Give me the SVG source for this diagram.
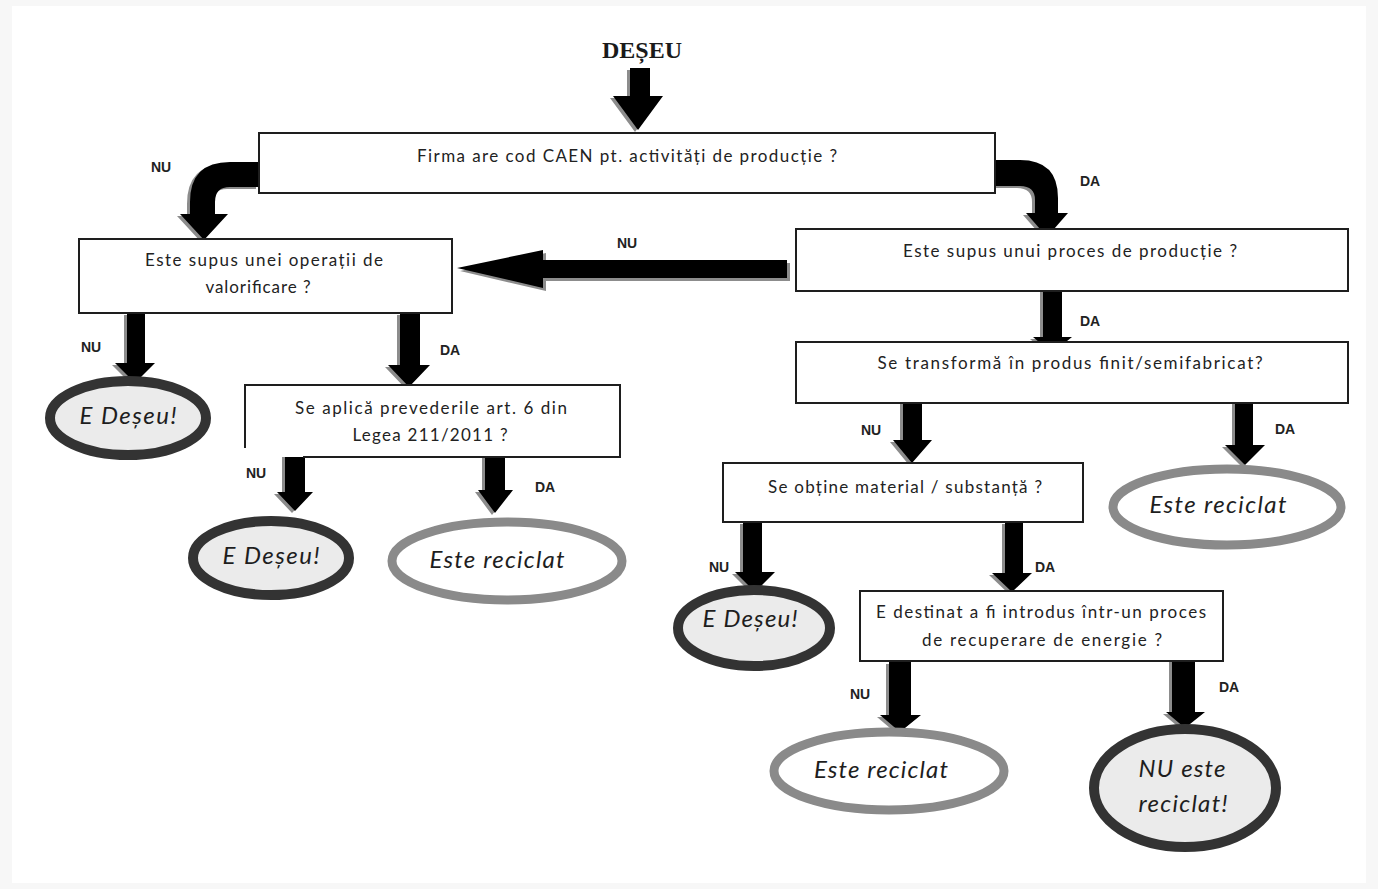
<svg xmlns="http://www.w3.org/2000/svg" width="1378" height="889" viewBox="0 0 1378 889">
<style>
.box{fill:#fff;stroke:#1e1e1e;stroke-width:2}
.t{font-family:Lato,"Liberation Sans",sans-serif;font-size:17px;fill:#222;text-anchor:middle}
.lbl{font-family:"Liberation Sans",Arial,sans-serif;font-size:14px;font-weight:bold;fill:#222;text-anchor:middle}
.et{font-family:Lato,"Liberation Sans",sans-serif;font-size:24px;font-style:italic;fill:#1e1e1e;text-anchor:middle}
.dark{fill:#ebebeb;stroke:#333;stroke-width:10}
.gray{fill:#fff;stroke:#8a8a8a;stroke-width:9}
.arr{fill:#000}
.sh{fill:#8c8c8c}
</style>
<rect x="0" y="0" width="1378" height="889" fill="#f7f7f7"/>
<rect x="12" y="6" width="1354" height="877" fill="#fff"/>
<text x="642" y="58" font-family="'Liberation Serif',serif" font-size="24" font-weight="bold" fill="#1a1a1a" text-anchor="middle">DEȘEU</text>

<g id="connectors">
  <g class="sh" transform="translate(-3,2)">
    <path d="M630,68 L650,68 L650,96 L663,96 L638,130 L613,96 L630,96 Z"/>
    <path d="M259,162 L230,162 Q190,162 190,202 L190,214 L180,214 L204,240 L228,214 L215,214 L215,202 Q215,187 230,187 L259,187 Z"/>
    <path d="M995,160 L1020,160 Q1058,160 1058,198 L1058,213 L1068,213 L1047,237 L1026,213 L1035,213 L1035,200 Q1035,186 1020,186 L995,186 Z"/>
    <path d="M127,313 L145,313 L145,363 L155,363 L135,383 L115,363 L127,363 Z"/>
    <path d="M400,313 L420,313 L420,365 L430,365 L409,387 L388,365 L400,365 Z"/>
    <path d="M285,443 L305,443 L305,492 L313,492 L295,511 L277,492 L285,492 Z"/>
    <path d="M485,443 L505,443 L505,490 L513,490 L495,513 L478,490 L485,490 Z"/>
    <path d="M1043,285 L1062,285 L1062,337 L1072,337 L1052,353 L1033,337 L1043,337 Z"/>
    <path d="M903,400 L922,400 L922,440 L932,440 L912,463 L893,440 L903,440 Z"/>
    <path d="M1235,398 L1253,398 L1253,445 L1265,445 L1245,465 L1225,445 L1235,445 Z"/>
    <path d="M743,522 L762,522 L762,572 L775,572 L755,592 L735,572 L743,572 Z"/>
    <path d="M1005,522 L1023,522 L1023,573 L1032,573 L1012,592 L992,573 L1005,573 Z"/>
    <path d="M889,662 L911,662 L911,715 L921,715 L900,732 L880,715 L889,715 Z"/>
    <path d="M1172,658 L1195,658 L1195,712 L1205,712 L1185,728 L1166,712 L1172,712 Z"/>
  </g>
  <path class="sh" transform="translate(3,3)" d="M787,260 L787,278 L543,278 L543,288 L457,268 L543,250 L543,260 Z"/>
  <g class="arr">
    <path d="M630,68 L650,68 L650,96 L663,96 L638,130 L613,96 L630,96 Z"/>
    <path d="M259,162 L230,162 Q190,162 190,202 L190,214 L180,214 L204,240 L228,214 L215,214 L215,202 Q215,187 230,187 L259,187 Z"/>
    <path d="M995,160 L1020,160 Q1058,160 1058,198 L1058,213 L1068,213 L1047,237 L1026,213 L1035,213 L1035,200 Q1035,186 1020,186 L995,186 Z"/>
    <path d="M787,260 L787,278 L543,278 L543,288 L457,268 L543,250 L543,260 Z"/>
    <path d="M127,313 L145,313 L145,363 L155,363 L135,383 L115,363 L127,363 Z"/>
    <path d="M400,313 L420,313 L420,365 L430,365 L409,387 L388,365 L400,365 Z"/>
    <path d="M285,443 L305,443 L305,492 L313,492 L295,511 L277,492 L285,492 Z"/>
    <path d="M485,443 L505,443 L505,490 L513,490 L495,513 L478,490 L485,490 Z"/>
    <path d="M1043,285 L1062,285 L1062,337 L1072,337 L1052,353 L1033,337 L1043,337 Z"/>
    <path d="M903,400 L922,400 L922,440 L932,440 L912,463 L893,440 L903,440 Z"/>
    <path d="M1235,398 L1253,398 L1253,445 L1265,445 L1245,465 L1225,445 L1235,445 Z"/>
    <path d="M743,522 L762,522 L762,572 L775,572 L755,592 L735,572 L743,572 Z"/>
    <path d="M1005,522 L1023,522 L1023,573 L1032,573 L1012,592 L992,573 L1005,573 Z"/>
    <path d="M889,662 L911,662 L911,715 L921,715 L900,732 L880,715 L889,715 Z"/>
    <path d="M1172,658 L1195,658 L1195,712 L1205,712 L1185,728 L1166,712 L1172,712 Z"/>
  </g>
  <text class="lbl" x="161" y="172">NU</text>
  <text class="lbl" x="1090" y="186">DA</text>
  <text class="lbl" x="627" y="248">NU</text>
  <text class="lbl" x="91" y="352">NU</text>
  <text class="lbl" x="450" y="355">DA</text>
  <text class="lbl" x="256" y="478">NU</text>
  <text class="lbl" x="545" y="492">DA</text>
  <text class="lbl" x="1090" y="326">DA</text>
  <text class="lbl" x="871" y="435">NU</text>
  <text class="lbl" x="1285" y="434">DA</text>
  <text class="lbl" x="719" y="572">NU</text>
  <text class="lbl" x="1045" y="572">DA</text>
  <text class="lbl" x="860" y="699">NU</text>
  <text class="lbl" x="1229" y="692">DA</text>
</g>

<g id="q1">
  <rect class="box" x="259" y="133" width="736" height="60"/>
  <text class="t" x="627" y="162" textLength="420" lengthAdjust="spacing">Firma are cod CAEN pt. activități de producție ?</text>
</g>
<g id="qA">
  <rect class="box" x="79" y="239" width="373" height="74"/>
  <text class="t" x="264" y="266" textLength="238" lengthAdjust="spacing">Este supus unei operații de</text>
  <text class="t" x="258" y="293" textLength="105" lengthAdjust="spacing">valorificare ?</text>
</g>
<g id="q2">
  <rect class="box" x="796" y="229" width="552" height="62"/>
  <text class="t" x="1070" y="257" textLength="334" lengthAdjust="spacing">Este supus unui proces de producție ?</text>
</g>
<g id="q3">
  <rect class="box" x="796" y="342" width="552" height="61"/>
  <text class="t" x="1070" y="369" textLength="385" lengthAdjust="spacing">Se transformă în produs finit/semifabricat?</text>
</g>
<g id="qB">
  <rect x="245" y="385" width="375" height="72" fill="#fff"/>
  <path d="M245,448 L245,385 L620,385 L620,457 L303,457" fill="none" stroke="#1e1e1e" stroke-width="2"/>
  <text class="t" x="431" y="414" textLength="272" lengthAdjust="spacing">Se aplică prevederile art. 6 din</text>
  <text class="t" x="430" y="441" textLength="155" lengthAdjust="spacing">Legea 211/2011 ?</text>
</g>
<g id="q4">
  <rect class="box" x="723" y="463" width="360" height="59"/>
  <text class="t" x="905" y="493" textLength="274" lengthAdjust="spacing">Se obține material / substanță ?</text>
</g>
<g id="q5">
  <rect class="box" x="860" y="591" width="363" height="70"/>
  <text class="t" x="1041" y="618" textLength="330" lengthAdjust="spacing">E destinat a fi introdus într-un proces</text>
  <text class="t" x="1042" y="646" textLength="240" lengthAdjust="spacing">de recuperare de energie ?</text>
</g>

<g id="e1">
  <ellipse class="dark" cx="128" cy="418" rx="78" ry="37"/>
  <text class="et" x="128" y="424" textLength="97" lengthAdjust="spacing">E Deșeu!</text>
</g>
<g id="e2">
  <ellipse class="dark" cx="271" cy="558" rx="78" ry="37"/>
  <text class="et" x="271" y="564" textLength="97" lengthAdjust="spacing">E Deșeu!</text>
</g>
<g id="r1">
  <ellipse class="gray" cx="507" cy="561" rx="115" ry="39"/>
  <text class="et" x="497" y="568" textLength="135" lengthAdjust="spacing">Este reciclat</text>
</g>
<g id="r2">
  <ellipse class="gray" cx="1227" cy="507" rx="114" ry="38"/>
  <text class="et" x="1218" y="513" textLength="137" lengthAdjust="spacing">Este reciclat</text>
</g>
<g id="e3">
  <ellipse class="dark" cx="754" cy="628" rx="76" ry="38"/>
  <text class="et" x="750" y="627" textLength="95" lengthAdjust="spacing">E Deșeu!</text>
</g>
<g id="r3">
  <ellipse class="gray" cx="889" cy="771" rx="115" ry="39"/>
  <text class="et" x="881" y="778" textLength="134" lengthAdjust="spacing">Este reciclat</text>
</g>
<g id="n1">
  <ellipse class="dark" cx="1185" cy="788" rx="91" ry="59" stroke-width="12"/>
  <text class="et" x="1182" y="777" textLength="87" lengthAdjust="spacing">NU este</text>
  <text class="et" x="1183" y="812" textLength="89" lengthAdjust="spacing">reciclat!</text>
</g>
</svg>
